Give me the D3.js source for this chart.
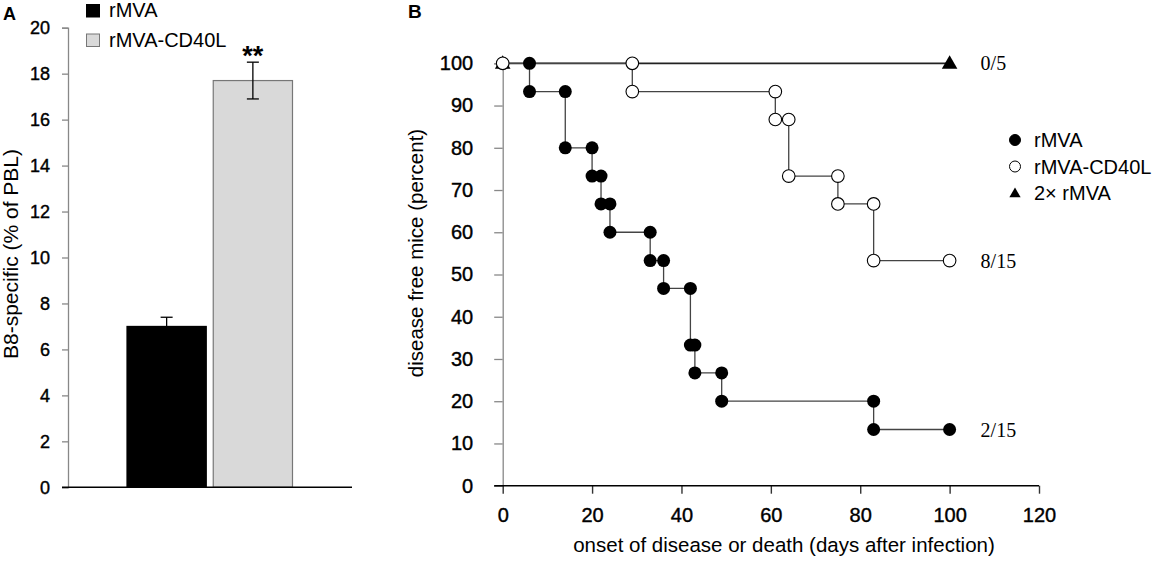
<!DOCTYPE html>
<html>
<head>
<meta charset="utf-8">
<script src="https://cdn.jsdelivr.net/npm/d3@7"></script>
<style>
  body { margin: 0; background: #fff; }
  svg { display: block; font-family: "Liberation Sans", Arial, sans-serif; }
  .tick text { stroke: #000; stroke-width: 0.4px; }
</style>
</head>
<body>
<div id="chart"></div>
<script>
// Panel A data
const barGroups = ['rMVA', 'rMVA-CD40L'];
const barValues = [7.0, 17.7];
const barErrors = [0.4, 0.8];
const barTicks = [0, 2, 4, 6, 8, 10, 12, 14, 16, 18, 20];

// Panel B data (days, percent disease free)
const seriesNames = ['rMVA', 'rMVA-CD40L', '2\u00d7 rMVA'];
const rmvaDays = [6, 6, 14, 14, 20, 20, 22, 22, 24, 24, 33, 33, 36, 36, 42, 42, 43, 43, 49, 49, 83, 83, 100];
const rmvaPct = [100, 93.3, 93.3, 80, 80, 73.3, 73.3, 66.7, 66.7, 60, 60, 53.3, 53.3, 46.7, 46.7, 33.3, 33.3, 26.7, 26.7, 20, 20, 13.3, 13.3];
const cd40Days = [0, 29, 29, 61, 61, 64, 64, 75, 75, 83, 83, 100];
const cd40Pct = [100, 100, 93.3, 93.3, 86.7, 86.7, 73.3, 73.3, 66.7, 66.7, 53.3, 53.3];
const twiceDays = [0, 100];
const twicePct = [100, 100];
const endLabels = ['2/15', '8/15', '0/5'];
const xTicksB = [0, 20, 40, 60, 80, 100, 120];
const yTicksB = [0, 10, 20, 30, 40, 50, 60, 70, 80, 90, 100];

const svg = d3.select('#chart')
    .append('svg')
    .attr('width', 1158)
    .attr('height', 564);

// ---------- Panel A ----------
const yA = d3.scaleLinear().domain([0, 20]).range([487.3, 27.7]);
const xA = d3.scaleBand().domain(barGroups).range([127, 292.5]).paddingInner(0.081).paddingOuter(0);
const barFill = ['#000', '#d9d9d9'];
const barStroke = ['#000', '#777'];

const gA = svg.append('g');

gA.append('text')
    .attr('x', 3).attr('y', 20)
    .attr('font-size', 18).attr('font-weight', 'bold')
    .text('A');

// y axis
const axA = gA.append('g')
    .attr('transform', 'translate(68,0)')
    .call(d3.axisLeft(yA).tickValues(barTicks).tickSize(6).tickPadding(12));
axA.select('.domain').attr('stroke', '#888').attr('stroke-width', 1.3);
axA.selectAll('.tick line').attr('stroke', '#888').attr('stroke-width', 1.3);
axA.selectAll('.tick text').attr('font-size', 18).attr('fill', '#000')
    .attr('font-family', '"Liberation Sans", Arial, sans-serif');

// bars
gA.selectAll('rect.bar')
    .data(barGroups)
    .enter()
    .append('rect')
    .attr('class', 'bar')
    .attr('x', d => xA(d))
    .attr('y', (d, i) => yA(barValues[i]))
    .attr('width', xA.bandwidth())
    .attr('height', (d, i) => yA(0) - yA(barValues[i]))
    .attr('fill', (d, i) => barFill[i])
    .attr('stroke', (d, i) => barStroke[i])
    .attr('stroke-width', 1.2);

// error bars
barGroups.forEach((g, i) => {
    const cx = xA(g) + xA.bandwidth() / 2;
    const top = yA(barValues[i] + barErrors[i]);
    const bot = yA(barValues[i] - barErrors[i]);
    gA.append('line')
        .attr('x1', cx).attr('x2', cx).attr('y1', top).attr('y2', bot)
        .attr('stroke', '#000').attr('stroke-width', 1.3);
    [top, bot].forEach(y => {
        gA.append('line')
            .attr('x1', cx - 6).attr('x2', cx + 6).attr('y1', y).attr('y2', y)
            .attr('stroke', '#000').attr('stroke-width', 1.3);
    });
});

// significance mark
gA.append('text')
    .attr('x', xA(barGroups[1]) + xA.bandwidth() / 2)
    .attr('y', yA(barValues[1] + barErrors[1]) + 3)
    .attr('text-anchor', 'middle')
    .attr('font-size', 27).attr('font-weight', 'bold')
    .text('**');

// baseline
gA.append('line')
    .attr('x1', 62).attr('x2', 352)
    .attr('y1', yA(0)).attr('y2', yA(0))
    .attr('stroke', '#000').attr('stroke-width', 1.6);

// y title
gA.append('text')
    .attr('transform', `translate(18,254) rotate(-90)`)
    .attr('text-anchor', 'middle')
    .attr('font-size', 21)
    .text('B8-specific (% of PBL)');

// legend
barGroups.forEach((g, i) => {
    gA.append('rect')
        .attr('x', 86.5).attr('y', 4.5 + i * 29.5)
        .attr('width', 13).attr('height', 12.5)
        .attr('fill', barFill[i]).attr('stroke', barStroke[i]).attr('stroke-width', 1);
    gA.append('text')
        .attr('x', 109).attr('y', 17 + i * 30)
        .attr('font-size', 20)
        .text(g);
});

// ---------- Panel B ----------
const xB = d3.scaleLinear().domain([0, 120]).range([502.7, 1039]);
const yB = d3.scaleLinear().domain([0, 100]).range([485.7, 63.3]);

const gB = svg.append('g');

gB.append('text')
    .attr('x', 408).attr('y', 18)
    .attr('font-size', 19).attr('font-weight', 'bold')
    .text('B');

const ayB = gB.append('g')
    .attr('transform', `translate(${xB(0)},0)`)
    .call(d3.axisLeft(yB).tickValues(yTicksB).tickSize(8.5).tickPadding(21));
ayB.select('.domain').attr('stroke', '#888').attr('stroke-width', 1.3);
ayB.selectAll('.tick line').attr('stroke', '#888').attr('stroke-width', 1.3);
ayB.selectAll('.tick text').attr('font-size', 20).attr('fill', '#000')
    .attr('font-family', '"Liberation Sans", Arial, sans-serif');

const axB = gB.append('g')
    .attr('transform', `translate(0,${yB(0)})`)
    .call(d3.axisBottom(xB).tickValues(xTicksB).tickSize(8).tickPadding(14).tickSizeOuter(0));
axB.select('.domain').remove();
axB.selectAll('.tick line').attr('stroke', '#333').attr('stroke-width', 1.4);
axB.selectAll('.tick text').attr('font-size', 20).attr('fill', '#000')
    .attr('font-family', '"Liberation Sans", Arial, sans-serif');
gB.append('line')
    .attr('x1', xB(0) - 8.5).attr('x2', xB(120))
    .attr('y1', yB(0)).attr('y2', yB(0))
    .attr('stroke', '#000').attr('stroke-width', 1.6);

// titles
gB.append('text')
    .attr('x', 784).attr('y', 552)
    .attr('text-anchor', 'middle')
    .attr('font-size', 20.5)
    .text('onset of disease or death (days after infection)');
gB.append('text')
    .attr('transform', `translate(423,253) rotate(-90)`)
    .attr('text-anchor', 'middle')
    .attr('font-size', 20.5)
    .text('disease free mice (percent)');

const zip = (xs, ys) => xs.map((x, i) => [x, ys[i]]);
const rmvaPts = zip(rmvaDays, rmvaPct);
const cd40Pts = zip(cd40Days, cd40Pct);
const twicePts = zip(twiceDays, twicePct);

const line = d3.line().x(d => xB(d[0])).y(d => yB(d[1]));

gB.append('path').attr('d', line(twicePts))
    .attr('fill', 'none').attr('stroke', '#222').attr('stroke-width', 1.7);
gB.append('path').attr('d', line(cd40Pts))
    .attr('fill', 'none').attr('stroke', '#444').attr('stroke-width', 1.3);
gB.append('path').attr('d', line(rmvaPts))
    .attr('fill', 'none').attr('stroke', '#444').attr('stroke-width', 1.3);

const tri = d3.symbol().type(d3.symbolTriangle).size(105);
gB.selectAll('path.tri')
    .data(twicePts)
    .enter()
    .append('path')
    .attr('class', 'tri')
    .attr('d', tri)
    .attr('transform', d => `translate(${xB(d[0])},${yB(d[1]) + 1})`)
    .attr('fill', '#000');

gB.selectAll('circle.rmva')
    .data(rmvaPts)
    .enter()
    .append('circle')
    .attr('class', 'rmva')
    .attr('cx', d => xB(d[0]))
    .attr('cy', d => yB(d[1]))
    .attr('r', 6.5)
    .attr('fill', '#000');

gB.selectAll('circle.cd40')
    .data(cd40Pts)
    .enter()
    .append('circle')
    .attr('class', 'cd40')
    .attr('cx', d => xB(d[0]))
    .attr('cy', d => yB(d[1]))
    .attr('r', 6.3)
    .attr('fill', '#fff')
    .attr('stroke', '#000')
    .attr('stroke-width', 1.1);

// end labels
const lastPts = [rmvaPts[rmvaPts.length - 1], cd40Pts[cd40Pts.length - 1], twicePts[twicePts.length - 1]];
gB.selectAll('text.end')
    .data(endLabels)
    .enter()
    .append('text')
    .attr('class', 'end')
    .attr('x', (d, i) => xB(lastPts[i][0]) + 31)
    .attr('y', (d, i) => yB(lastPts[i][1]) + 7)
    .attr('font-family', '"Liberation Serif", "Times New Roman", serif')
    .attr('font-size', 20)
    .text(d => d);

// legend
const lg = gB.append('g');
seriesNames.forEach((name, i) => {
    const cy = 140 + i * 26.5;
    if (i === 2) {
        lg.append('path')
            .attr('d', d3.symbol().type(d3.symbolTriangle).size(55)())
            .attr('transform', `translate(1015,${cy + 1})`)
            .attr('fill', '#000');
    } else {
        lg.append('circle')
            .attr('cx', 1015).attr('cy', cy).attr('r', 5.5)
            .attr('fill', i === 0 ? '#000' : '#fff')
            .attr('stroke', '#000').attr('stroke-width', 1);
    }
    lg.append('text')
        .attr('x', 1034).attr('y', cy + 7)
        .attr('font-size', 20)
        .text(name);
});
</script>
</body>
</html>
